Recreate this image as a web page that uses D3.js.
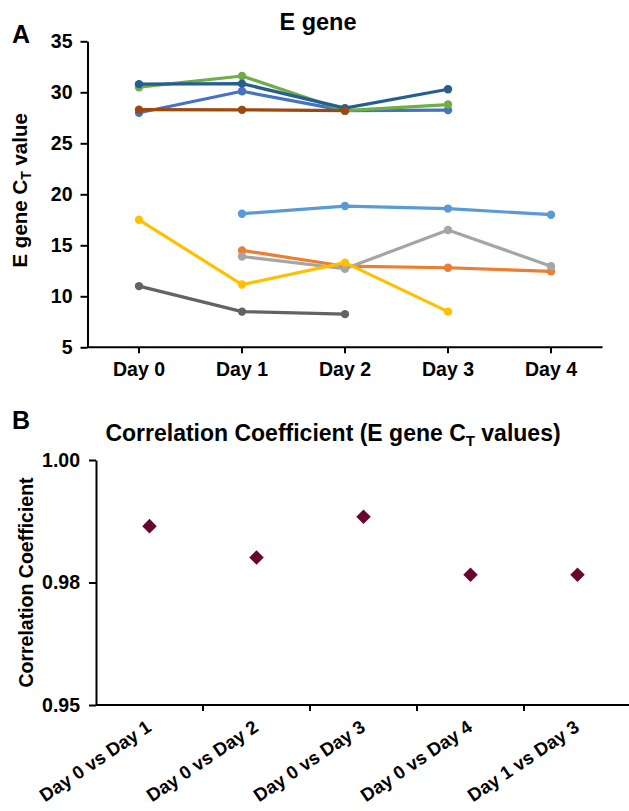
<!DOCTYPE html>
<html>
<head>
<meta charset="utf-8">
<script src="https://cdn.jsdelivr.net/npm/d3@7"></script>
<style>
  html, body { margin: 0; padding: 0; background: #fff; }
  svg { display: block; font-family: "Liberation Sans", Arial, sans-serif; font-weight: bold; }
</style>
</head>
<body>
<svg id="chart" width="629" height="811"></svg>
<script>
// ---------- Data ----------
const days = ["Day 0", "Day 1", "Day 2", "Day 3", "Day 4"];
const yTicksA = [5, 10, 15, 20, 25, 30, 35];

// Series in draw order (Excel series order)
const seriesBlue      = [28.0, 30.1, 28.2, 28.25, null];
const seriesOrange    = [null, 14.5, 12.95, 12.8, 12.45];
const seriesGray      = [null, 13.9, 12.7, 16.5, 12.95];
const seriesGold      = [17.5, 11.15, 13.3, 8.5, null];
const seriesLightBlue = [null, 18.1, 18.85, 18.6, 18.0];
const seriesGreen     = [30.5, 31.6, 28.2, 28.8, null];
const seriesDarkBlue  = [30.8, 30.85, 28.45, 30.3, null];
const seriesBrown     = [28.3, 28.28, 28.2, null, null];
const seriesDarkGray  = [11.0, 8.5, 8.25, null, null];

const seriesColors = ["#4472C4", "#ED7D31", "#A5A5A5", "#FFC000", "#5B9BD5", "#70AD47", "#255E91", "#9E480E", "#636363"];

const comparisons = ["Day 0 vs Day 1", "Day 0 vs Day 2", "Day 0 vs Day 3", "Day 0 vs Day 4", "Day 1 vs Day 3"];
const corrValues = [0.9865, 0.9801, 0.9884, 0.9766, 0.9766];
const yTicksB = [0.95, 0.975, 1.0];
const yTickLabelsB = ["0.95", "0.98", "1.00"];

// ---------- Setup ----------
const svg = d3.select("#chart");
const allSeries = [seriesBlue, seriesOrange, seriesGray, seriesGold, seriesLightBlue,
                   seriesGreen, seriesDarkBlue, seriesBrown, seriesDarkGray];

function styleAxis(g, fs) {
  g.select(".domain").attr("stroke", "#000").attr("stroke-width", 2);
  g.selectAll(".tick line").attr("stroke", "#000").attr("stroke-width", 2);
  g.selectAll(".tick text").attr("fill", "#000").attr("font-size", fs).attr("font-weight", "bold")
    .attr("font-family", "'Liberation Sans', Arial, sans-serif");
}

// ---------- Panel A ----------
const A = { left: 87.5, right: 602.5, top: 41.3, bottom: 347.3 };
const xA = d3.scaleBand().domain(days).range([A.left, A.right]);
const yA = d3.scaleLinear().domain([5, 35]).range([A.bottom, A.top]);

svg.append("text").attr("x", 12).attr("y", 43).attr("font-size", 25).text("A");
svg.append("text").attr("x", 318).attr("y", 30).attr("text-anchor", "middle").attr("font-size", 23.5).text("E gene");

const yAxisA = svg.append("g").attr("transform", `translate(${A.left},0)`)
  .call(d3.axisLeft(yA).tickValues(yTicksA).tickSize(7).tickPadding(8).tickSizeOuter(0));
styleAxis(yAxisA, 19.5);

const xAxisA = svg.append("g").attr("transform", `translate(0,${A.bottom})`)
  .call(d3.axisBottom(xA).tickSize(6).tickPadding(9).tickSizeOuter(0));
styleAxis(xAxisA, 19.5);
xAxisA.select(".domain").attr("d", `M${A.left},0H${A.right}`);

const yLabA = svg.append("text")
  .attr("transform", `translate(27,${(A.top + A.bottom) / 2 - 4}) rotate(-90)`)
  .attr("text-anchor", "middle").attr("font-size", 20.5);
yLabA.append("tspan").text("E gene C");
yLabA.append("tspan").attr("font-size", 14).attr("dy", 4).text("T");
yLabA.append("tspan").attr("dy", -4).text(" value");

const line = d3.line()
  .defined(d => d.v !== null)
  .x(d => xA(d.day) + xA.bandwidth() / 2)
  .y(d => yA(d.v));

allSeries.forEach((s, i) => {
  const pts = s.map((v, j) => ({ day: days[j], v }));
  const g = svg.append("g");
  g.append("path").datum(pts).attr("d", line).attr("fill", "none")
    .attr("stroke", seriesColors[i]).attr("stroke-width", 3.2).attr("stroke-linejoin", "round");
  g.selectAll("circle").data(pts.filter(d => d.v !== null)).join("circle")
    .attr("cx", d => xA(d.day) + xA.bandwidth() / 2)
    .attr("cy", d => yA(d.v))
    .attr("r", 4.2)
    .attr("fill", seriesColors[i]);
});

// ---------- Panel B ----------
const B = { left: 96, right: 631, top: 460, bottom: 705 };
const xB = d3.scaleBand().domain(comparisons).range([B.left, B.right]);
const yB = d3.scaleLinear().domain([0.95, 1.0]).range([B.bottom, B.top]);

svg.append("text").attr("x", 12).attr("y", 429).attr("font-size", 25).text("B");
const titleB = svg.append("text").attr("x", 333).attr("y", 441).attr("text-anchor", "middle").attr("font-size", 23);
titleB.append("tspan").text("Correlation Coefficient (E gene C");
titleB.append("tspan").attr("font-size", 15).attr("dy", 5).text("T");
titleB.append("tspan").attr("dy", -5).text(" values)");

const yAxisB = svg.append("g").attr("transform", `translate(${B.left},0)`)
  .call(d3.axisLeft(yB).tickValues(yTicksB).tickFormat((d, i) => yTickLabelsB[i]).tickSize(7).tickPadding(9).tickSizeOuter(0));
styleAxis(yAxisB, 19.5);

// x axis with ticks at band boundaries
const xAxisB = svg.append("g").attr("transform", `translate(0,${B.bottom})`);
xAxisB.append("line").attr("x1", B.left).attr("x2", B.right).attr("stroke", "#000").attr("stroke-width", 2);
xAxisB.selectAll(".bt").data(comparisons).join("line").attr("class", "bt")
  .attr("x1", d => xB(d) + xB.bandwidth()).attr("x2", d => xB(d) + xB.bandwidth())
  .attr("y1", 0).attr("y2", 6).attr("stroke", "#000").attr("stroke-width", 2);
xAxisB.selectAll(".bl").data(comparisons).join("text").attr("class", "bl")
  .attr("transform", d => `translate(${xB(d) + xB.bandwidth() / 2 + 3},25) rotate(-34)`)
  .attr("text-anchor", "end").attr("font-size", 18.5).text(d => d);

svg.append("text")
  .attr("transform", `translate(33,${(B.top + B.bottom) / 2}) rotate(-90)`)
  .attr("text-anchor", "middle").attr("font-size", 19.5).text("Correlation Coefficient");

const diamond = d3.symbol().type(d3.symbolDiamond2).size(135);
svg.selectAll(".dia").data(comparisons).join("path").attr("class", "dia")
  .attr("transform", (d, i) => `translate(${xB(d) + xB.bandwidth() / 2},${yB(corrValues[i])})`)
  .attr("d", diamond).attr("fill", "#68062F");
</script>
</body>
</html>
